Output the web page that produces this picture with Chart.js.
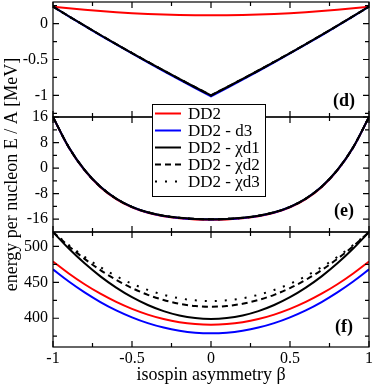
<!DOCTYPE html>
<html><head><meta charset="utf-8">
<script src="https://cdn.jsdelivr.net/npm/chart.js@4/dist/chart.umd.min.js"></script>
<style>html,body{margin:0;padding:0;background:#fff;}canvas{display:block;}</style>
</head><body>
<canvas id="c" width="374" height="387"></canvas>
<script>
// ---------- data ----------
const beta = [-1,-0.9,-0.8,-0.7,-0.6,-0.5,-0.4,-0.3,-0.2,-0.1,0,0.1,0.2,0.3,0.4,0.5,0.6,0.7,0.8,0.9,1];
const seriesNames = ['DD2', 'DD2 - d3', 'DD2 - \u03c7d1', 'DD2 - \u03c7d2', 'DD2 - \u03c7d3'];

// panel (d)
const dDD2   = [0.235,0.212,0.192,0.174,0.158,0.145,0.134,0.126,0.120,0.116,0.115,0.116,0.120,0.126,0.134,0.145,0.158,0.174,0.192,0.212,0.235];
const dD3    = [0.235,0.101,-0.032,-0.163,-0.290,-0.416,-0.539,-0.661,-0.781,-0.897,-1.012,-0.897,-0.781,-0.661,-0.539,-0.416,-0.290,-0.163,-0.032,0.101,0.235];
const dChiD1 = [0.235,0.102,-0.030,-0.159,-0.285,-0.410,-0.532,-0.653,-0.771,-0.886,-1.000,-0.886,-0.771,-0.653,-0.532,-0.410,-0.285,-0.159,-0.030,0.102,0.235];
const dChiD2 = [0.235,0.102,-0.030,-0.159,-0.285,-0.410,-0.532,-0.653,-0.771,-0.886,-1.000,-0.886,-0.771,-0.653,-0.532,-0.410,-0.285,-0.159,-0.030,0.102,0.235];
const dChiD3 = [0.235,0.102,-0.030,-0.159,-0.285,-0.410,-0.532,-0.653,-0.771,-0.886,-1.000,-0.886,-0.771,-0.653,-0.532,-0.410,-0.285,-0.159,-0.030,0.102,0.235];

// panel (e)
const eDD2   = [15.95,6.42,-0.72,-5.96,-9.70,-12.28,-13.99,-15.07,-15.71,-16.05,-16.15,-16.05,-15.71,-15.07,-13.99,-12.28,-9.70,-5.96,-0.72,6.42,15.95];
const eD3    = [15.98,6.49,-0.63,-5.86,-9.59,-12.17,-13.88,-14.96,-15.60,-15.95,-16.05,-15.95,-15.60,-14.96,-13.88,-12.17,-9.59,-5.86,-0.63,6.49,15.98];
const eChiD1 = [16,6.53,-0.59,-5.82,-9.55,-12.13,-13.84,-14.92,-15.56,-15.90,-16.00,-15.90,-15.56,-14.92,-13.84,-12.13,-9.55,-5.82,-0.59,6.53,16];
const eChiD2 = [16,6.53,-0.59,-5.82,-9.55,-12.13,-13.84,-14.92,-15.56,-15.90,-16.00,-15.90,-15.56,-14.92,-13.84,-12.13,-9.55,-5.82,-0.59,6.53,16];
const eChiD3 = [16,6.53,-0.59,-5.82,-9.55,-12.13,-13.84,-14.92,-15.56,-15.90,-16.00,-15.90,-15.56,-14.92,-13.84,-12.13,-9.55,-5.82,-0.59,6.53,16];

// panel (f)
const fDD2   = [479,462.3,447.3,434.1,422.7,413.0,405.1,398.9,394.5,391.9,391,391.9,394.5,398.9,405.1,413.0,422.7,434.1,447.3,462.3,479];
const fD3    = [468,451.1,436.0,422.6,411.0,401.3,393.2,387.0,382.6,379.9,379,379.9,382.6,387.0,393.2,401.3,411.0,422.6,436.0,451.1,468];
const fChiD1 = [520,497.0,476.4,458.3,442.6,429.3,418.4,409.9,403.8,400.2,399,400.2,403.8,409.9,418.4,429.3,442.6,458.3,476.4,497.0,520];
const fChiD2 = [520,500.2,482.6,467.0,453.4,442.0,432.6,425.4,420.2,417.0,416,417.0,420.2,425.4,432.6,442.0,453.4,467.0,482.6,500.2,520];
const fChiD3 = [520,501.8,485.4,471.0,458.6,448.0,439.4,432.6,427.8,425.0,424,425.0,427.8,432.6,439.4,448.0,458.6,471.0,485.4,501.8,520];

// ticks
const xTicks  = [-1,-0.5,0,0.5,1];
const xMinor  = [-0.75,-0.25,0.25,0.75];
const ydTicks = [-1,-0.5,0];
const ydMinor = [-1.25,-0.75,-0.25,0.25];
const yeTicks = [-16,-8,0,8,16];
const yeMinor = [-12,-4,4,12];
const yfTicks = [400,450,500];
const yfMinor = [375,425,475];
const panelLabels = ['(d)', '(e)', '(f)'];

// ---------- styles ----------
const FONT = "'Liberation Serif','Times New Roman',serif";
const styles = [
  {color:'#ff0000', dash:[],    order:5},
  {color:'#0000ff', dash:[],    order:4},
  {color:'#000000', dash:[],    order:3},
  {color:'#000000', dash:[6,4], order:2},
  {color:'#000000', dash:[2,8], order:1}
];
const panels = [
  {id:'yd', series:[dDD2,dD3,dChiD1,dChiD2,dChiD3], major:ydTicks, minor:ydMinor, label:panelLabels[0], labelOff:16, sharp:true},
  {id:'ye', series:[eDD2,eD3,eChiD1,eChiD2,eChiD3], major:yeTicks, minor:yeMinor, label:panelLabels[1], labelOff:21, sharp:false},
  {id:'yf', series:[fDD2,fD3,fChiD1,fChiD2,fChiD3], major:yfTicks, minor:yfMinor, label:panelLabels[2], labelOff:20, sharp:false}
];

const datasets = [];
panels.forEach(p => {
  p.series.forEach((vals, i) => {
    const st = styles[i];
    const ds = {
      label: seriesNames[i],
      data: beta.map((b, k) => ({x: b, y: vals[k]})),
      yAxisID: p.id,
      borderColor: st.color,
      borderDash: st.dash,
      borderWidth: 2,
      pointRadius: 0,
      fill: false,
      order: st.order
    };
    if (p.sharp && i > 0) { ds.tension = 0; } else { ds.cubicInterpolationMode = 'monotone'; }
    datasets.push(ds);
  });
});

function setTicks(arr) { return function(scale){ scale.ticks = arr.map(v => ({value: v})); }; }
const tickFont = {family: FONT, size: 16};
function yScale(min, max, ticks, extra) {
  return Object.assign({
    type:'linear', position:'left', stack:'panels', stackWeight:1, min:min, max:max,
    afterBuildTicks: setTicks(ticks),
    afterFit: function(s){ s.width = 53; s.paddingTop = 0; s.paddingBottom = 0; },
    grid:{display:false, drawTicks:false}, border:{display:false},
    ticks:{color:'#000', font:tickFont, padding:5, autoSkip:false, callback: v => String(v)}
  }, extra || {});
}

const framePlugin = {
  id: 'frame',
  afterDraw(chart) {
    const ctx = chart.ctx, xs = chart.scales.x;
    const L = chart.chartArea.left, R = chart.chartArea.right;
    ctx.save();
    ctx.strokeStyle = '#000'; ctx.lineWidth = 1.2; ctx.setLineDash([]);
    panels.forEach(p => {
      const s = chart.scales[p.id];
      const T = s.top, B = s.bottom;
      ctx.strokeRect(L, T, R - L, B - T);
      ctx.beginPath();
      const yt = (vals, len) => vals.forEach(v => { const y = s.getPixelForValue(v); ctx.moveTo(L, y); ctx.lineTo(L + len, y); ctx.moveTo(R, y); ctx.lineTo(R - len, y); });
      const xt = (vals, len) => vals.forEach(v => { const x = xs.getPixelForValue(v); ctx.moveTo(x, T); ctx.lineTo(x, T + len); ctx.moveTo(x, B); ctx.lineTo(x, B - len); });
      yt(p.major, 6); yt(p.minor, 4); xt(xTicks, 6); xt(xMinor, 4);
      ctx.stroke();
      ctx.fillStyle = '#000';
      ctx.font = 'bold 18px ' + FONT;
      ctx.textAlign = 'center'; ctx.textBaseline = 'middle';
      ctx.fillText(p.label, R - 25, B - p.labelOff);
    });
    // legend
    const bx = 152.5, by = 104.5, bw = 113, bh = 92;
    ctx.fillStyle = '#fff'; ctx.fillRect(bx, by, bw, bh);
    ctx.lineWidth = 1; ctx.strokeRect(bx, by, bw, bh);
    ctx.font = '17px ' + FONT; ctx.textAlign = 'left'; ctx.textBaseline = 'middle';
    seriesNames.forEach((name, i) => {
      const y = 113.5 + 17 * i;
      ctx.strokeStyle = styles[i].color; ctx.lineWidth = 2; ctx.setLineDash(styles[i].dash);
      ctx.beginPath(); ctx.moveTo(155, y); ctx.lineTo(181, y); ctx.stroke();
      ctx.setLineDash([]);
      ctx.fillStyle = '#000'; ctx.fillText(name, 188, y + 1);
    });
    ctx.restore();
  }
};

new Chart(document.getElementById('c'), {
  type: 'line',
  data: {datasets: datasets},
  options: {
    responsive: false, animation: false, devicePixelRatio: 1,
    layout: {padding: {left: 0, right: 5, top: 2, bottom: 0}},
    plugins: {legend: {display: false}, tooltip: {enabled: false}},
    scales: {
      x: {
        type:'linear', position:'bottom', min:-1, max:1,
        afterBuildTicks: setTicks(xTicks),
        afterFit: function(s){ s.height = 40; s.paddingLeft = 0; s.paddingRight = 0; },
        grid:{display:false, drawTicks:false}, border:{display:false},
        ticks:{color:'#000', font:tickFont, padding:2, maxRotation:0, autoSkip:false, callback: v => String(v)},
        title:{display:true, text:'isospin asymmetry \u03b2', color:'#000', font:{family:FONT, size:18}, padding:{top:0, bottom:1}}
      },
      yf: yScale(360, 520, yfTicks),
      ye: yScale(-20, 16, yeTicks, {title:{display:true, text:'energy per nucleon E / A [MeV]', color:'#000', font:{family:FONT, size:18}, padding:{top:1, bottom:0}}}),
      yd: yScale(-1.3, 0.3, ydTicks)
    }
  },
  plugins: [framePlugin]
});
</script>
</body></html>
